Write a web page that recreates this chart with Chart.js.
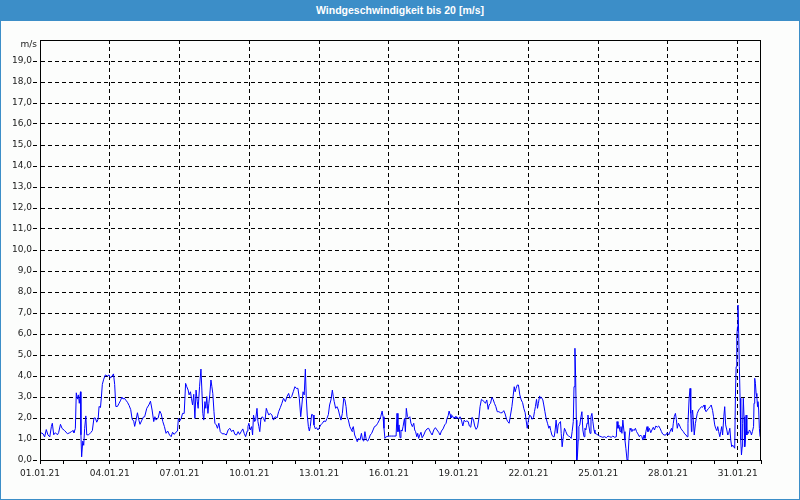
<!DOCTYPE html>
<html>
<head>
<meta charset="utf-8">
<script src="https://cdn.jsdelivr.net/npm/chart.js@4.4.1/dist/chart.umd.min.js"></script>
<style>
html, body { margin: 0; padding: 0; }
body { width: 800px; height: 500px; position: relative; background: #fcfdfc; overflow: hidden; }
#frame { position: absolute; left: 0; top: 0; width: 798px; height: 498px; border: 1px solid #3c8ec8; }
#title { position: absolute; left: 0; top: 0; width: 800px; height: 21px; background: #3c8ec8; color: #fff;
         font: bold 10.5px "Liberation Sans", sans-serif; text-align: center; line-height: 20px; }
canvas { position: absolute; left: 0; top: 0; }
</style>
</head>
<body>
<div id="frame"></div>
<div id="title">Windgeschwindigkeit bis 20 [m/s]</div>
<canvas id="windChart" width="800" height="500"></canvas>
<script>
// days since 01.01.21 00:00
const days = [
  0.03,0.13,0.20,0.27,0.34,0.42,0.49,0.53,0.59,0.66,
  0.75,0.80,0.88,0.95,1.06,1.18,1.28,1.35,1.42,1.46,
  1.52,1.56,1.61,1.65,1.69,1.74,1.76,1.79,1.84,1.88,
  1.92,1.97,2.01,2.09,2.18,2.25,2.32,2.38,2.44,2.50,
  2.54,2.60,2.64,2.68,2.74,2.81,2.90,2.97,3.03,3.10,
  3.16,3.21,3.26,3.33,3.40,3.47,3.52,3.57,3.62,3.69,
  3.76,3.83,3.90,3.96,4.03,4.07,4.13,4.19,4.25,4.30,
  4.38,4.45,
  4.50,4.59,4.68,4.75,4.82,4.89,4.94,4.99,5.08,5.15,
  5.21,5.28,5.35,5.42,5.49,5.57,5.64,5.70,5.77,5.84,
  5.91,5.95,6.01,6.07,6.13,6.20,6.26,6.31,6.37,6.41,
  6.47,6.51,6.56,6.61,6.66,6.71,6.76,6.80,6.86,6.92,
  6.96,7.00,7.04,7.09,7.13,7.17,7.22,7.26,7.30,7.35,
  7.39,7.43,7.48,7.52,7.58,7.63,7.69,7.75,7.83,7.92,
  8.01,8.09,8.16,8.24,8.31,8.38,8.45,8.52,8.58,8.65,
  8.72,8.78,8.84,8.91,
  8.94,8.98,9.04,9.10,9.14,9.18,9.23,9.27,9.33,9.37,
  9.41,9.45,9.50,9.56,9.61,9.67,9.73,9.78,9.84,9.90,
  9.97,10.04,10.11,10.19,10.26,10.33,10.40,10.47,10.55,10.62,
  10.69,10.75,10.82,10.89,10.96,11.02,11.09,11.15,11.21,11.26,
  11.31,11.36,11.41,11.45,11.49,11.54,11.58,11.62,11.68,11.74,
  11.78,11.84,11.89,11.95,12.01,12.07,12.14,12.21,12.28,12.34,
  12.40,12.45,12.51,12.57,12.61,12.65,12.71,12.77,12.83,12.88,
  12.94,13.00,13.06,13.11,13.16,13.20,13.26,13.32,13.37,13.43,
  13.41,13.47,13.53,13.59,13.64,13.70,13.76,13.82,13.87,13.92,
  13.97,14.03,14.09,14.15,14.20,14.26,14.32,14.38,14.45,14.52,
  14.59,14.65,14.71,14.75,14.79,14.83,14.89,14.96,15.04,15.12,
  15.21,15.31,15.35,15.39,15.44,15.48,15.52,15.57,15.61,15.67,
  15.71,15.75,15.80,15.85,15.90,15.95,16.01,16.07,16.11,16.15,
  16.20,16.24,16.28,16.33,16.38,16.43,16.50,16.57,16.64,16.71,
  16.79,16.86,16.93,17.00,17.07,17.14,17.20,17.26,17.33,17.40,
  17.46,17.50,17.55,17.59,17.63,17.67,17.73,17.79,17.85,17.90,
  17.89,17.95,18.01,18.06,18.12,18.18,18.24,18.29,18.35,18.41,
  18.46,18.52,18.58,18.64,18.69,18.75,18.81,18.87,18.92,18.98,
  19.04,19.10,19.15,19.21,19.27,19.31,19.37,19.43,19.48,19.54,
  19.60,19.66,19.73,19.80,19.87,19.94,20.00,20.06,20.11,20.17,
  20.23,20.29,20.34,20.39,20.43,20.47,20.52,20.57,20.63,20.69,
  20.75,20.80,20.86,20.90,20.95,20.99,21.05,21.10,21.16,21.22,
  21.26,21.30,21.35,21.39,21.43,21.48,21.52,21.56,21.62,21.66,
  21.71,21.76,21.82,21.88,21.92,21.96,22.01,22.06,22.11,22.15,
  22.19,22.24,22.28,22.32,22.38,
  22.41,22.45,22.50,22.55,22.61,22.67,22.73,22.78,22.84,22.88,
  22.93,22.96,23.00,23.03,23.06,23.08,23.11,23.14,23.17,23.21,
  23.26,23.30,23.34,23.39,23.43,23.47,23.52,23.56,23.60,23.65,
  23.69,23.73,23.77,23.82,23.86,23.92,23.99,24.06,24.13,24.20,
  24.27,24.35,24.42,24.49,24.56,24.63,24.71,24.78,24.81,24.85,
  24.89,24.94,24.98,25.02,25.06,25.11,25.15,25.19,25.24,25.28,
  25.32,25.37,25.41,25.45,25.49,25.54,25.60,25.65,25.71,25.77,
  25.82,25.88,25.92,25.97,26.01,26.05,26.10,26.14,26.20,26.26,
  26.31,26.37,26.42,26.48,26.54,26.60,26.66,26.72,26.77,26.83,
  26.91,26.97,27.03,27.09,27.15,27.19,27.23,27.27,27.32,27.36,
  27.40,27.45,27.49,27.55,27.60,27.66,27.72,27.78,27.82,27.86,
  27.91,27.95,27.98,28.01,28.03,28.06,28.09,28.13,28.18,28.22,
  28.26,28.32,28.38,28.44,28.49,28.55,28.59,28.64,28.69,28.75,
  28.81,28.86,28.92,28.96,29.01,29.05,29.10,29.14,29.18,29.23,
  29.27,29.31,29.35,29.40,29.44,29.48,29.53,29.57,29.61,29.66,
  29.70,29.74,29.78,29.83,29.87,29.90,29.93,29.96,29.99,30.01,
  30.04,30.07,30.10,30.13,30.16,30.19,30.21,30.24,30.27,30.30,
  30.33,30.36,30.39,30.41,30.46,30.50,30.55,30.59,30.63,30.68,
  30.70,30.73,30.76,30.79,30.82,30.85,30.87,30.90,30.93,30.96,
  30.99
];

// wind speed in m/s
const speed = [
  1.3,1.25,1.1,1.45,1.2,1.1,1.6,1.75,1.2,1.3,
  1.2,1.3,1.7,1.5,1.4,1.25,1.3,1.35,1.4,1.3,
  1.5,3.2,2.9,3.1,2.7,3.25,1.2,0.15,0.9,0.7,
  1.5,2.1,1.2,1.2,1.3,1.4,2.0,2.0,1.8,1.95,
  2.55,2.5,3.0,3.6,3.85,4.05,4.0,4.05,3.9,4.0,
  4.1,3.6,2.55,2.55,2.7,2.85,3.0,2.9,2.95,2.85,
  2.75,2.6,2.4,1.95,1.85,1.6,1.9,2.25,1.9,1.7,
  1.9,2.05,
  2.06,2.46,2.62,2.8,2.38,1.83,2.06,1.9,2.0,2.33,
  2.2,1.83,1.59,1.27,1.38,1.19,1.11,1.32,1.22,1.32,
  1.38,1.98,1.86,1.98,2.22,2.22,3.65,3.49,3.33,3.1,
  3.25,2.94,2.62,3.13,1.98,3.33,2.8,2.46,3.49,4.33,
  3.33,2.22,1.9,2.78,2.46,3.02,2.22,2.7,3.1,3.81,
  3.49,3.17,2.3,1.75,1.67,1.51,1.75,1.35,1.25,1.25,
  1.19,1.43,1.51,1.35,1.43,1.22,1.19,1.35,1.22,1.35,
  1.48,1.27,1.11,1.38,
  1.59,1.75,1.43,1.59,1.19,2.14,1.83,1.9,2.46,1.83,
  1.59,1.35,1.98,2.06,1.98,1.83,2.46,2.3,2.14,2.22,
  2.14,1.9,2.06,2.0,2.3,2.49,2.7,2.94,2.78,3.02,
  3.17,2.94,3.02,3.25,3.49,3.41,3.41,2.94,2.06,2.62,
  3.25,3.1,4.33,2.94,2.14,1.59,1.38,1.59,2.17,2.14,
  1.67,1.48,1.54,1.43,1.54,1.67,1.75,1.86,1.83,1.98,
  2.17,2.62,2.86,3.33,3.02,2.78,2.46,2.54,2.38,2.14,
  1.9,2.22,2.94,2.86,2.54,2.06,1.9,1.59,1.48,1.35,
  1.43,1.59,1.19,1.03,0.87,1.03,0.95,1.27,0.95,0.9,
  1.35,0.95,0.9,1.03,1.19,1.27,1.43,1.59,1.63,1.75,
  1.9,2.06,2.33,2.06,1.51,1.03,1.11,1.13,1.14,1.14,
  1.14,1.14,2.22,1.35,1.67,1.06,1.43,1.38,1.59,1.98,
  1.35,2.46,2.06,2.0,2.06,1.75,1.59,1.75,1.43,1.35,
  1.11,1.27,1.03,1.19,1.32,1.06,1.19,1.38,1.48,1.51,
  1.32,1.19,1.43,1.54,1.43,1.32,1.19,1.38,1.48,1.67,
  1.75,1.98,2.11,2.33,2.17,2.0,2.11,1.98,2.06,2.06,
  1.98,2.03,1.95,2.06,1.9,1.62,1.9,1.83,1.86,1.83,
  1.62,1.56,2.03,1.9,1.62,1.46,1.56,1.98,2.54,2.89,
  2.83,2.78,2.7,2.86,2.41,2.62,2.7,2.98,2.89,2.7,
  2.54,2.3,2.3,2.25,2.25,2.35,2.19,1.94,1.83,1.75,
  2.14,2.54,3.02,3.49,3.25,3.41,3.57,3.57,3.1,2.86,
  2.73,2.46,2.25,1.9,1.51,1.83,2.14,2.1,1.94,2.03,
  2.3,2.54,2.89,2.46,2.7,3.05,2.94,2.98,2.86,2.62,
  2.3,1.98,1.75,1.51,1.62,1.4,1.19,1.11,1.11,1.43,
  1.9,1.27,1.67,1.75,1.83,
  1.27,0.63,1.11,1.51,1.35,1.19,1.14,1.11,1.03,1.35,
  1.83,3.49,5.32,3.97,1.9,0.0,0.24,0.95,1.59,1.67,
  2.06,2.3,1.43,1.11,1.51,1.43,1.75,2.14,1.62,1.27,
  2.06,2.22,1.83,1.43,1.27,1.24,1.19,1.14,1.11,1.08,
  1.11,1.06,1.14,1.11,1.08,1.14,1.08,1.11,1.83,1.51,
  1.67,1.35,1.59,1.27,1.9,1.35,0.95,0.56,0.0,0.08,
  0.95,1.51,1.43,1.35,1.46,1.4,1.51,1.35,1.24,1.11,
  1.19,1.11,0.95,1.19,1.03,1.35,1.59,1.35,1.51,1.3,
  1.43,1.56,1.43,1.62,1.56,1.62,1.51,1.35,1.24,1.19,
  1.19,1.3,1.19,1.35,1.51,1.35,1.75,2.06,2.22,1.94,
  1.51,1.75,1.67,1.51,1.43,1.35,1.24,1.19,1.11,1.75,
  2.94,3.41,2.22,1.35,2.14,2.38,1.9,1.19,1.75,1.98,
  2.22,2.38,2.46,2.54,2.51,2.62,2.41,2.3,2.38,2.46,
  2.54,2.62,2.35,2.06,1.67,1.51,1.4,1.59,1.35,1.11,
  1.35,1.59,1.19,2.06,2.54,1.67,1.43,1.19,1.27,1.51,
  0.95,0.63,0.71,0.63,0.56,3.02,4.44,5.87,6.35,7.38,
  6.03,4.44,2.94,0.95,0.24,0.63,1.75,2.94,2.06,0.63,
  0.95,2.14,1.19,1.35,1.27,1.43,1.35,1.19,1.35,1.59,
  2.7,3.89,3.65,3.17,3.02,2.54,2.78,2.38,1.51,1.11,
  1.43
];

const dateLabels = ['01.01.21', '04.01.21', '07.01.21', '10.01.21', '13.01.21', '16.01.21',
                    '19.01.21', '22.01.21', '25.01.21', '28.01.21', '31.01.21'];

const labelFont = { family: '"DejaVu Sans", sans-serif', size: 9 };
const textColor = '#1a1a1a';

const frameBox = {
    id: 'frameBox',
    afterDraw(chart) {
        const { ctx, chartArea: a } = chart;
        ctx.save();
        ctx.strokeStyle = '#000';
        ctx.lineWidth = 1;
        ctx.strokeRect(a.left + 0.5, a.top + 0.5, a.right - a.left - 1, a.bottom - a.top);
        ctx.fillStyle = textColor;
        ctx.font = '9px "DejaVu Sans", sans-serif';
        ctx.textAlign = 'right';
        ctx.textBaseline = 'middle';
        ctx.fillText('m/s', a.left - 3, a.top + 5);
        ctx.restore();
    }
};

const windChart = new Chart(document.getElementById('windChart'), {
    type: 'line',
    data: {
        datasets: [{
            data: days.map((d, i) => ({ x: d, y: speed[i] })),
            borderColor: '#0000ff',
            borderWidth: 1,
            pointRadius: 0,
            tension: 0,
            fill: false
        }]
    },
    options: {
        responsive: false,
        animation: false,
        parsing: false,
        layout: { padding: { top: 40, right: 39, left: 0, bottom: 0 } },
        plugins: { legend: { display: false }, tooltip: { enabled: false }, title: { display: false } },
        scales: {
            x: {
                type: 'linear',
                min: 0,
                max: 31,
                afterFit: s => { s.height = 40; },
                ticks: {
                    stepSize: 1,
                    autoSkip: false,
                    maxRotation: 0,
                    padding: 4,
                    color: textColor,
                    font: labelFont,
                    callback: v => (v % 3 === 0 ? dateLabels[v / 3] : '')
                },
                grid: {
                    color: c => (c.tick && c.tick.value % 3 === 0 ? '#000' : 'rgba(0,0,0,0)'),
                    tickColor: '#000',
                    tickLength: 4,
                    lineWidth: 1
                },
                border: { display: true, color: '#000', dash: [4, 3] }
            },
            y: {
                min: 0,
                max: 20,
                afterFit: s => { s.width = 40; },
                ticks: {
                    stepSize: 1,
                    autoSkip: false,
                    padding: 1,
                    color: textColor,
                    font: labelFont,
                    callback: v => (v === 20 ? '' : v.toFixed(1).replace('.', ','))
                },
                grid: {
                    color: '#000',
                    tickColor: c => (c.tick && c.tick.value === 20 ? 'rgba(0,0,0,0)' : '#000'),
                    tickLength: 7,
                    tickBorderDash: [4, 3],
                    lineWidth: 1
                },
                border: { display: true, color: '#000', dash: [4, 3] }
            }
        }
    },
    plugins: [frameBox]
});
</script>
</body>
</html>
